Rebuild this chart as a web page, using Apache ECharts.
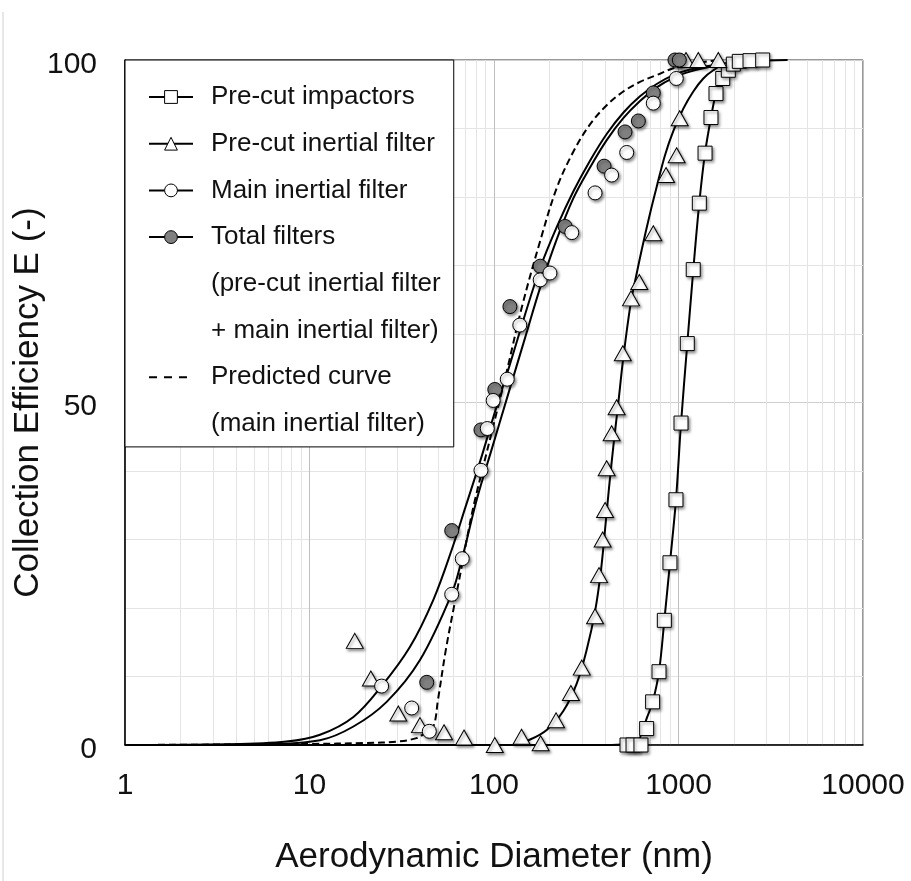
<!DOCTYPE html>
<html>
<head>
<meta charset="utf-8">
<title>Collection efficiency vs aerodynamic diameter</title>
<script src="https://cdn.jsdelivr.net/npm/echarts@6/dist/echarts.min.js"></script>
<style>
  html, body { margin: 0; padding: 0; background: #fff; }
  #chart { width: 911px; height: 881px; }
</style>
</head>
<body>
<div id="chart"></div>
<script>
// measured points: [diameter (nm), efficiency (%)]
const impactorPts = [
  [526, 0], [567, 0], [626, 0], [672, 2.4], [724, 6.3], [784, 10.7], [838, 18.2],
  [899, 26.6], [969, 35.8], [1032, 47.0], [1116, 58.6], [1202, 69.4], [1297, 79.1],
  [1393, 86.4], [1500, 91.6], [1597, 95.1], [1737, 97.3], [1862, 98.5], [1982, 99.4],
  [2136, 99.8], [2442, 99.9], [2860, 100]
]
const precutPts = [
  [17.6, 15.2], [21.5, 9.7], [30.3, 4.6], [39.7, 2.9], [53.6, 1.85], [68.8, 1.1],
  [101, 0], [141, 1.2], [179, 0.25], [217, 3.6], [261, 7.6], [299, 11.3], [353, 18.8],
  [371, 24.8], [388, 30.0], [400, 34.3], [408, 40.4], [434, 45.5], [462, 49.3],
  [499, 57.2], [553, 65.2], [613, 67.6], [730, 74.7], [856, 83.2], [977, 86.1],
  [1015, 91.5], [1098, 100], [1280, 100], [1643, 100]
]
const mainPts = [
  [24.6, 8.6], [35.8, 5.4], [44.6, 2.0], [59, 22.0], [67.3, 27.2], [85, 40.1],
  [92, 46.2], [99, 50.3], [118, 53.4], [138, 61.3], [178, 67.9], [201, 68.9],
  [264, 74.8], [353, 80.6], [434, 83.2], [524, 86.5], [730, 93.7], [973, 97.3]
]
const totalPts = [
  [43.2, 9.15], [59, 31.3], [85, 46.0], [101, 51.9], [122, 64.0], [178, 69.9],
  [243, 75.7], [395, 84.5], [513, 89.5], [606, 91.1], [730, 95.2], [957, 100], [1010, 100]
]

// fitted curves
const impactorFit = [
  [1, 0], [375, 0], [593, 0.3], [632, 1.9], [677, 4.1], [725, 6.3], [784, 10.7],
  [838, 18.2], [899, 26.6], [969, 35.8], [1032, 47.0], [1116, 58.6], [1203, 69.4],
  [1296, 79.1], [1392, 86.4], [1500, 91.6], [1597, 95.1], [1736, 97.6], [1901, 98.8],
  [2154, 99.5], [2543, 99.85], [3900, 100]
]
const precutFit = [
  [1, 0], [127, 0], [157, 0.8], [193, 2.2], [238, 5.0], [281, 9.0], [318, 13.9],
  [353, 19.5], [380, 25.5], [400, 31.5], [420, 37.5], [443, 43.5], [472, 50.0],
  [502, 56.5], [551, 64.5], [593, 68.8], [632, 72.3], [701, 77.6], [762, 81.5],
  [845, 86.1], [937, 89.6], [1062, 92.9], [1203, 95.4], [1363, 97.3], [1544, 98.5],
  [1787, 99.4], [2765, 100]
]
const mainFit = [
  [1, 0], [5.4, 0.1], [11.4, 0.7], [17.3, 2.7], [26.2, 6.3], [39.7, 12.4], [59, 22.1],
  [67.1, 27.2], [80.6, 35.8], [97.5, 43.3], [118.7, 51.0], [147.2, 59.4], [177.6, 66.7],
  [218.7, 73.8], [269, 79.8], [331.4, 84.3], [408.2, 88.3], [502, 91.5], [618.4, 94.0],
  [761.8, 96.0], [937.2, 97.4], [1154, 98.3], [1422, 98.9], [1901, 99.5], [2765, 100]
]
const totalFit = [
  [1, 0], [3.7, 0.1], [7.5, 0.5], [11.4, 1.5], [17.3, 4.1], [24.6, 8.6], [35, 14.3],
  [46.9, 21.2], [59, 28.5], [69.6, 34.5], [85, 41.8], [101.1, 48.6], [122.1, 55.6],
  [147.2, 62.8], [177.6, 69.6], [218.7, 75.6], [269, 80.8], [331.4, 85.3], [408.2, 89.2],
  [502, 92.3], [618.4, 94.7], [761.8, 96.5], [937.2, 97.8], [1154, 98.6], [1422, 99.1],
  [1901, 99.6], [2765, 100]
]
const predictedFit = [
  [1, 0], [10, 0.15], [20, 0.3], [30, 0.5], [38, 1.0], [42, 1.7], [46.9, 2.7],
  [49.7, 6.6], [54.9, 14.0], [61.5, 21.0], [67.1, 26.3], [73.2, 31.7], [78.9, 35.8],
  [97.5, 45.8], [117.6, 54.7], [141.8, 64.0], [177.6, 73.5], [218.7, 81.3], [269, 86.6],
  [331.4, 90.6], [408.2, 93.4], [502, 95.4], [618.4, 96.8], [761.8, 97.8], [937.2, 98.8],
  [1203, 99.5], [1679, 100]
]

const legendNames = [
  'Pre-cut impactors',
  'Pre-cut inertial filter',
  'Main inertial filter',
  'Total filters',
  '(pre-cut inertial filter',
  '+ main inertial filter)',
  'Predicted curve',
  '(main inertial filter)'
]

const FONT = "'Liberation Sans', Arial, Helvetica, sans-serif"
const shadow = { shadowBlur: 3, shadowColor: 'rgba(0,0,0,0.45)', shadowOffsetX: 1.5, shadowOffsetY: 2 }

// fit line, also carries the legend icon (line + marker)
const fitLine = (name, data, symbol, fill, dash) => ({
  name: name,
  type: 'line',
  data: data,
  symbol: symbol,
  showSymbol: false,
  smooth: 0.35,
  silent: true,
  animation: false,
  z: 2,
  itemStyle: { color: fill, borderColor: '#000', borderWidth: 1 },
  lineStyle: { color: '#000', width: 2, type: dash || 'solid' },
  emphasis: { disabled: true }
})

const points = (name, data, symbol, size, fill) => ({
  name: name,
  type: 'scatter',
  data: data,
  symbol: symbol,
  symbolSize: size,
  silent: true,
  animation: false,
  z: 3,
  itemStyle: Object.assign({ color: fill, borderColor: '#000', borderWidth: 1, opacity: 1 }, shadow),
  emphasis: { disabled: true }
})

const emptyEntry = name => ({ name: name, type: 'line', data: [], symbol: 'none', silent: true })

const hidden = { itemStyle: { opacity: 0 }, lineStyle: { opacity: 0 } }

const chart = echarts.init(document.getElementById('chart'))

chart.setOption({
  backgroundColor: '#fff',
  textStyle: { fontFamily: FONT },
  grid: {
    left: 125, right: 48, top: 60, bottom: 136,
    show: true, borderColor: '#333', borderWidth: 1,
    outerBoundsMode: 'none'
  },
  graphic: [{
    type: 'line',
    shape: { x1: 3, y1: 12, x2: 3, y2: 881 },
    style: { stroke: '#d0d0d0', lineWidth: 1 },
    silent: true
  }],
  legend: {
    orient: 'vertical',
    left: 125,
    top: 60,
    padding: [24, 13, 10, 23],
    itemWidth: 44,
    itemHeight: 16,
    itemGap: 20.7,
    backgroundColor: '#fff',
    borderColor: '#000',
    borderWidth: 1,
    selectedMode: false,
    itemStyle: { borderWidth: 1 },
    lineStyle: { width: 2, color: '#000' },
    textStyle: { fontFamily: FONT, fontSize: 26, lineHeight: 26, color: '#111', padding: [0, 0, 0, 13] },
    data: [
      { name: legendNames[0] },
      { name: legendNames[1] },
      { name: legendNames[2] },
      { name: legendNames[3] },
      Object.assign({ name: legendNames[4] }, hidden),
      Object.assign({ name: legendNames[5] }, hidden),
      { name: legendNames[6], itemStyle: { opacity: 0 }, lineStyle: { type: [8, 7], width: 2, color: '#000' } },
      Object.assign({ name: legendNames[7] }, hidden)
    ]
  },
  xAxis: {
    type: 'log',
    logBase: 10,
    min: 1,
    max: 10000,
    name: 'Aerodynamic Diameter (nm)',
    nameLocation: 'middle',
    nameGap: 95,
    nameMoveOverlap: false,
    nameTextStyle: { fontFamily: FONT, fontSize: 35, color: '#111' },
    axisLine: { onZero: false, lineStyle: { color: '#000', width: 1.5 } },
    axisTick: { show: false },
    axisLabel: {
      fontFamily: FONT, fontSize: 30, color: '#111', margin: 26,
      formatter: value => String(value)
    },
    splitLine: { show: true, lineStyle: { color: '#bfbfbf', width: 1 } },
    minorTick: { show: false, splitNumber: 9 },
    minorSplitLine: { show: true, lineStyle: { color: '#e4e4e4', width: 1 } }
  },
  yAxis: {
    type: 'value',
    min: 0,
    max: 100,
    interval: 50,
    name: 'Collection Efficiency E (-)',
    nameLocation: 'middle',
    nameGap: 79,
    nameMoveOverlap: false,
    nameTextStyle: { fontFamily: FONT, fontSize: 35, color: '#111' },
    axisLine: { show: true, lineStyle: { color: '#000', width: 1.5 } },
    axisTick: { show: false },
    axisLabel: {
      fontFamily: FONT, fontSize: 30, color: '#111', margin: 28,
      verticalAlign: 'top', lineHeight: 9
    },
    splitLine: { show: true, lineStyle: { color: '#cfcfcf', width: 1 } },
    minorTick: { show: false, splitNumber: 5 },
    minorSplitLine: { show: true, lineStyle: { color: '#e4e4e4', width: 1 } }
  },
  series: [
    fitLine(legendNames[0], impactorFit, 'rect', '#fff'),
    fitLine(legendNames[1], precutFit, 'triangle', '#fff'),
    fitLine(legendNames[2], mainFit, 'circle', '#fff'),
    fitLine(legendNames[3], totalFit, 'circle', '#808080'),
    emptyEntry(legendNames[4]),
    emptyEntry(legendNames[5]),
    fitLine(legendNames[6], predictedFit, 'none', '#000', [7, 4]),
    emptyEntry(legendNames[7]),
    points(legendNames[0], impactorPts, 'rect', 14, '#fff'),
    points(legendNames[1], precutPts, 'triangle', [17, 15], '#fff'),
    points(legendNames[3], totalPts, 'circle', 14, '#808080'),
    points(legendNames[2], mainPts, 'circle', 14, '#fff')
  ]
})
</script>
</body>
</html>
